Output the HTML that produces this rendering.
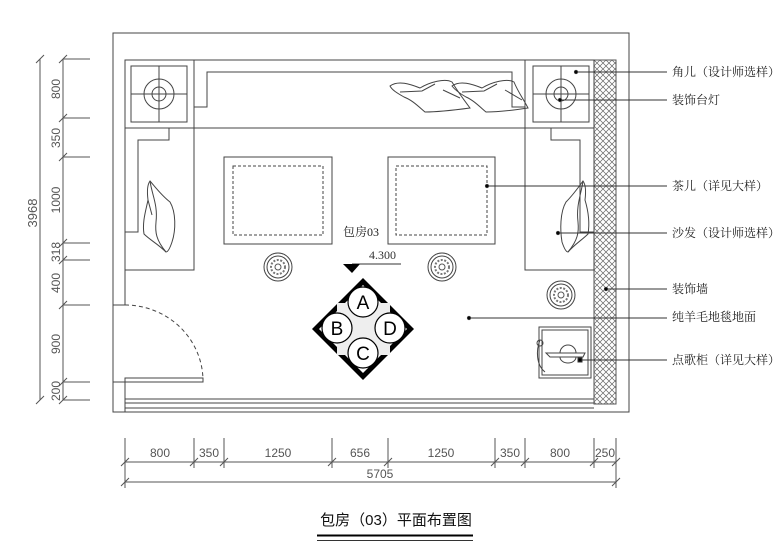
<!DOCTYPE html>
<html><head><meta charset="utf-8"><style>
html,body{margin:0;padding:0;background:#fff}
svg{display:block}
.l{fill:none;stroke:#444;stroke-width:1}
.d{fill:#555;font-family:"Liberation Sans",sans-serif;font-size:12px}
.c{fill:#222;font-family:"Liberation Serif","Noto Serif CJK SC",serif;font-size:12px}
</style></head><body>
<svg width="780" height="551" viewBox="0 0 780 551" xmlns="http://www.w3.org/2000/svg">
<defs>
<pattern id="h" width="6" height="6" patternUnits="userSpaceOnUse">
<path d="M0 0L6 6M6 0L0 6" stroke="#666" stroke-width="0.7"/>
</pattern>
<g id="med"><circle r="14" fill="#fff" stroke="#444"/><circle r="11" fill="none" stroke="#444"/><circle r="7" fill="none" stroke="#777" stroke-dasharray="2 1.5" stroke-width="2"/><circle r="3" fill="none" stroke="#555"/></g>
</defs>
<rect x="113" y="33" width="516" height="379" class="l"/>
<path class="l" d="M125 60H594M125 60V305M113 305H125M113 382H125M125 382V412M125 399H594M125 403H594M125 408H594"/>
<rect x="594" y="60" width="22" height="344" fill="url(#h)" stroke="#555"/>
<rect x="125" y="60" width="69" height="68" class="l"/>
<rect x="131" y="66" width="56" height="56" class="l"/>
<rect x="525" y="60" width="69" height="68" class="l"/>
<rect x="533" y="66" width="56" height="56" class="l"/>
<path class="l" d="M194 60V128H525V60M194 107H207V72H512V107H525"/>
<path class="l" d="M159 66V122M131 94H187M561 66V122M533 94H589"/>
<circle cx="159" cy="94" r="15" class="l"/><circle cx="159" cy="94" r="7" class="l"/>
<circle cx="561" cy="94" r="15" class="l"/><circle cx="561" cy="94" r="7" class="l"/>
<path class="l" d="M390 86C398 80 410 84 420 88C430 82 445 78 452 82C458 92 464 100 470 108C455 110 440 112 425 112C418 106 412 100 404 97C397 93 392 90 390 86Z"/>
<path class="l" d="M400 92L422 91L435 84M443 90L460 98"/>
<path class="l" d="M452 86C460 80 472 84 482 88C492 82 507 78 514 82C518 92 524 100 528 108C515 110 500 112 486 112C479 106 473 100 466 97C459 93 455 90 452 86Z"/>
<path class="l" d="M462 92L484 91L497 84M505 90L522 100"/>
<rect x="125" y="128" width="69" height="142" class="l"/>
<path class="l" d="M169 128V140H138V232H125"/>
<rect x="525" y="128" width="69" height="142" class="l"/>
<path class="l" d="M551 128V140H580V232H594"/>
<path class="l" d="M150 181C156 188 162 196 170 202C176 212 176 230 172 242C170 248 168 252 166 252C158 244 150 240 144 234C142 222 146 210 148 200C147 192 147 185 150 181Z"/>
<path class="l" d="M150 181C152 195 158 205 156 222C155 232 156 240 166 252M148 200L152 215"/>
<path class="l" d="M583 181C578 188 572 196 566 202C560 212 560 230 562 242C564 248 566 252 568 252C575 244 582 240 588 234C590 222 588 210 585 200C586 192 586 185 583 181Z"/>
<path class="l" d="M583 181C581 195 576 205 578 222C579 232 578 240 568 252"/>
<rect x="224" y="157" width="108" height="87" class="l"/>
<rect x="233" y="166" width="90" height="69" class="l" stroke-dasharray="3 2"/>
<rect x="388" y="157" width="107" height="87" class="l"/>
<rect x="396" y="166" width="91" height="69" class="l" stroke-dasharray="3 2"/>
<text x="343" y="236" class="c">包房03</text>
<text x="369" y="259" style="fill:#333;font-family:'Liberation Serif',serif;font-size:12px">4.300</text>
<path d="M352 264H401" stroke="#333"/>
<path d="M343 264H360L352 273Z" fill="#000"/>
<path d="M363 278L414 329L363 380L312 329Z" fill="#000"/>
<path d="M363 285L407 329L363 373L319 329Z" fill="#fff"/>
<rect x="337" y="303" width="53" height="52" fill="#eee"/>
<g fill="#fff" stroke="#000" stroke-width="1.2">
<circle cx="363" cy="302" r="15"/><circle cx="337" cy="328" r="15"/><circle cx="390" cy="328" r="15"/><circle cx="363" cy="353" r="15"/>
</g>
<g font-family="'Liberation Sans',sans-serif" font-size="19" text-anchor="middle" fill="#000">
<text x="363" y="309">A</text><text x="337" y="335">B</text><text x="390" y="335">D</text><text x="363" y="360">C</text>
</g>
<use href="#med" x="278" y="267"/><use href="#med" x="442" y="267"/><use href="#med" x="561" y="295"/>
<rect x="125" y="378" width="78" height="4" class="l"/>
<path class="l" d="M125 305A78 76 0 0 1 203 381" stroke-dasharray="4 3"/>
<rect x="539" y="327" width="52" height="51" class="l"/>
<rect x="542" y="330" width="46" height="45" class="l"/>
<path class="l" d="M546 353H585L583 357H550ZM560 353A8 8 0 0 1 576 353M560 357A8 6 0 0 0 576 357M540 340C536 350 536 365 545 372"/>
<circle cx="540" cy="343" r="3" class="l"/>
<g stroke="#333" fill="#000">
<path d="M576 72H667M560 100H667M487 186H667M558 233H667M606 289H667M469 318H667M580 360H667"/>
<circle cx="576" cy="72" r="1.6"/><circle cx="560" cy="100" r="1.6"/><circle cx="487" cy="186" r="1.6"/><circle cx="558" cy="233" r="1.6"/><circle cx="606" cy="289" r="1.6"/><circle cx="469" cy="318" r="1.6"/><rect x="578" y="358" width="4" height="4"/>
</g>
<g class="c">
<text x="672" y="76">角儿（设计师选样）</text>
<text x="672" y="104">装饰台灯</text>
<text x="672" y="190">茶儿（详见大样）</text>
<text x="672" y="237">沙发（设计师选样）</text>
<text x="672" y="293">装饰墙</text>
<text x="672" y="321">纯羊毛地毯地面</text>
<text x="672" y="364">点歌柜（详见大样）</text>
</g>
<g stroke="#555">
<path d="M40 59V400M63 59V400"/>
<path d="M36 63L44 55M36 404L44 396"/>
<path d="M63 59H90M63 118H90M63 157H90M63 243H90M63 260H90M63 305H90M63 382H90M63 400H90"/>
<path d="M59 63L67 55M59 122L67 114M59 161L67 153M59 247L67 239M59 264L67 256M59 309L67 301M59 386L67 378M59 404L67 396"/>
</g>
<g class="d" text-anchor="middle">
<text transform="translate(60 89) rotate(-90)">800</text>
<text transform="translate(60 138) rotate(-90)">350</text>
<text transform="translate(60 200) rotate(-90)">1000</text>
<text transform="translate(60 252) rotate(-90)">318</text>
<text transform="translate(60 283) rotate(-90)">400</text>
<text transform="translate(60 344) rotate(-90)">900</text>
<text transform="translate(60 391) rotate(-90)">200</text>
<text transform="translate(37 213) rotate(-90)" style="font-size:13px">3968</text>
</g>
<g stroke="#555">
<path d="M125 462H616M125 482H616"/>
<path d="M125 438V488M194 438V468M224 438V468M332 438V468M388 438V468M495 438V468M525 438V468M594 438V468M616 438V488"/>
<path d="M121 466L129 458M190 466L198 458M220 466L228 458M328 466L336 458M384 466L392 458M491 466L499 458M521 466L529 458M590 466L598 458M612 466L620 458M121 486L129 478M612 486L620 478"/>
</g>
<g class="d" text-anchor="middle">
<text x="160" y="457">800</text><text x="209" y="457">350</text><text x="278" y="457">1250</text>
<text x="360" y="457">656</text><text x="441" y="457">1250</text><text x="510" y="457">350</text>
<text x="560" y="457">800</text><text x="605" y="457">250</text><text x="380" y="478">5705</text>
</g>
<text x="396" y="525" text-anchor="middle" style="font-family:'Liberation Sans','Noto Sans CJK SC',sans-serif;font-size:15px;fill:#111">包房（03）平面布置图</text>
<path d="M317 535.5H473" stroke="#000" stroke-width="2"/>
<path d="M317 540.5H473" stroke="#333" stroke-width="1"/>
</svg>
</body></html>
